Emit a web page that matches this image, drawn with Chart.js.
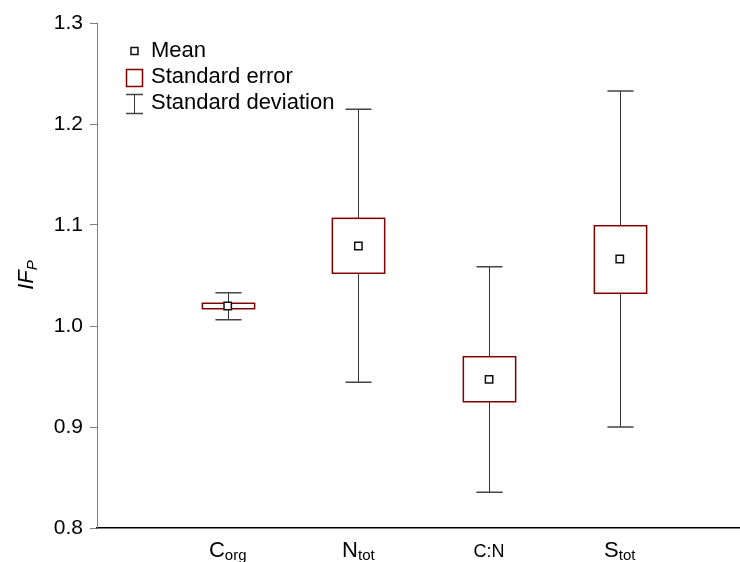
<!DOCTYPE html>
<html><head><meta charset="utf-8">
<script src="https://cdn.jsdelivr.net/npm/chart.js@4.4.1/dist/chart.umd.min.js"></script>
<style>html,body{margin:0;padding:0;background:#fff}#wrap{width:740px;height:562px;position:relative}</style>
</head><body><div id="wrap"><canvas id="c"></canvas></div>
<script>
// ---- data ----
const categories = ['C', 'N', 'C:N', 'S'];
const subscripts = ['org', 'tot', '', 'tot'];
const positions = [1, 2, 3, 4];
const means  = [1.0198, 1.0792, 0.9472, 1.0663];
const seLow  = [1.0171, 1.0522, 0.9250, 1.0324];
const seHigh = [1.0225, 1.1066, 0.9696, 1.0993];
const sdLow  = [1.0063, 0.9443, 0.8353, 0.9000];
const sdHigh = [1.0330, 1.2146, 1.0587, 1.2327];
const yTicks = [0.8, 0.9, 1.0, 1.1, 1.2, 1.3];
const legendLabels = ['Mean', 'Standard error', 'Standard deviation'];
const yTitle = 'IF';
const yTitleSub = 'P';

const FONT = "'Liberation Sans', Arial, sans-serif";
const SE_COLOR = '#800000';

const boxPlugin = {
  id: 'boxes',
  beforeDatasetsDraw(chart) {
    const ctx = chart.ctx, xs = chart.scales.x, ys = chart.scales.y;
    ctx.save();
    positions.forEach((p, i) => {
      const x = Math.round(xs.getPixelForValue(p)) + 0.5;
      const hb = xs.getPixelForValue(p + 0.2) - xs.getPixelForValue(p);
      const hc = xs.getPixelForValue(p + 0.1) - xs.getPixelForValue(p);
      const yl = ys.getPixelForValue(sdLow[i]), yh = ys.getPixelForValue(sdHigh[i]);
      ctx.strokeStyle = '#333'; ctx.lineWidth = 1;
      ctx.beginPath(); ctx.moveTo(x, yl); ctx.lineTo(x, yh); ctx.stroke();
      ctx.strokeStyle = '#444'; ctx.lineWidth = 1.5;
      ctx.beginPath();
      ctx.moveTo(x - hc, yl); ctx.lineTo(x + hc, yl);
      ctx.moveTo(x - hc, yh); ctx.lineTo(x + hc, yh);
      ctx.stroke();
      const bt = ys.getPixelForValue(seHigh[i]), bb = ys.getPixelForValue(seLow[i]);
      ctx.fillStyle = '#fff';
      ctx.fillRect(x - hb, bt, 2 * hb, bb - bt);
      ctx.strokeStyle = SE_COLOR; ctx.lineWidth = 1.5;
      ctx.strokeRect(x - hb, bt, 2 * hb, bb - bt);
    });
    ctx.restore();
  },
  afterDraw(chart) {
    const ctx = chart.ctx, xs = chart.scales.x;
    ctx.save();
    ctx.fillStyle = '#000';
    ctx.textBaseline = 'alphabetic';
    // category labels with subscripts
    positions.forEach((p, i) => {
      const x = xs.getPixelForValue(p);
      const mainSize = subscripts[i] ? 22 : 18;
      ctx.font = mainSize + 'px ' + FONT;
      const w1 = ctx.measureText(categories[i]).width;
      ctx.font = '15px ' + FONT;
      const w2 = subscripts[i] ? ctx.measureText(subscripts[i]).width : 0;
      const x0 = x - (w1 + w2) / 2;
      ctx.font = mainSize + 'px ' + FONT;
      ctx.textAlign = 'left';
      ctx.fillText(categories[i], x0, 557);
      if (subscripts[i]) {
        ctx.font = '15px ' + FONT;
        ctx.fillText(subscripts[i], x0 + w1, 560);
      }
    });
    // y title
    ctx.save();
    ctx.translate(33, 275);
    ctx.rotate(-Math.PI / 2);
    ctx.font = 'italic 22px ' + FONT;
    const t1 = ctx.measureText(yTitle).width;
    ctx.font = 'italic 15px ' + FONT;
    const t2 = ctx.measureText(yTitleSub).width;
    const s = -(t1 + t2) / 2;
    ctx.font = 'italic 22px ' + FONT;
    ctx.fillText(yTitle, s, 0);
    ctx.font = 'italic 15px ' + FONT;
    ctx.fillText(yTitleSub, s + t1, 4);
    ctx.restore();
    // legend
    const lx = 134.5;
    ctx.fillStyle = '#fff'; ctx.strokeStyle = '#111'; ctx.lineWidth = 1.5;
    ctx.fillRect(lx - 3.5, 47.5, 7, 7); ctx.strokeRect(lx - 3.5, 47.5, 7, 7);
    ctx.strokeStyle = SE_COLOR;
    ctx.strokeRect(126.5, 69.5, 16, 17);
    ctx.strokeStyle = '#444';
    ctx.beginPath();
    ctx.moveTo(126, 94.5); ctx.lineTo(143, 94.5);
    ctx.moveTo(126, 113.5); ctx.lineTo(143, 113.5);
    ctx.stroke();
    ctx.lineWidth = 1; ctx.strokeStyle = '#333';
    ctx.beginPath(); ctx.moveTo(134.5, 94.5); ctx.lineTo(134.5, 113.5); ctx.stroke();
    ctx.fillStyle = '#000';
    ctx.font = '22px ' + FONT;
    const base = [57, 83, 109];
    legendLabels.forEach((t, i) => ctx.fillText(t, 151, base[i]));
    ctx.restore();
  }
};

new Chart(document.getElementById('c'), {
  type: 'scatter',
  data: {
    datasets: [{
      label: legendLabels[0],
      data: positions.map((p, i) => ({ x: p, y: means[i] })),
      pointStyle: 'rect',
      radius: 5.2,
      borderWidth: 1.5,
      borderColor: '#111',
      backgroundColor: '#fff'
    }]
  },
  options: {
    responsive: true,
    maintainAspectRatio: false,
    animation: false,
    events: [],
    layout: { autoPadding: false, padding: { top: 23, left: 0, right: 0, bottom: 0 } },
    plugins: { legend: { display: false }, tooltip: { enabled: false } },
    scales: {
      x: {
        type: 'linear', min: 0, max: 4.92,
        ticks: { display: false },
        grid: { display: false },
        border: { display: true, color: '#000', width: 1.5 },
        afterFit: s => { s.height = 34; }
      },
      y: {
        type: 'linear', min: 0.8, max: 1.3,
        afterBuildTicks: s => { s.ticks = yTicks.map(v => ({ value: v })); },
        ticks: {
          callback: v => Number(v).toFixed(1),
          color: '#000', padding: 7,
          font: { family: FONT, size: 21 }
        },
        grid: { drawOnChartArea: false, drawTicks: true, tickLength: 7, color: '#808080' },
        border: { display: true, color: '#808080', width: 1 },
        afterFit: s => { s.width = 97; }
      }
    }
  },
  plugins: [boxPlugin]
});
</script>
</body></html>
